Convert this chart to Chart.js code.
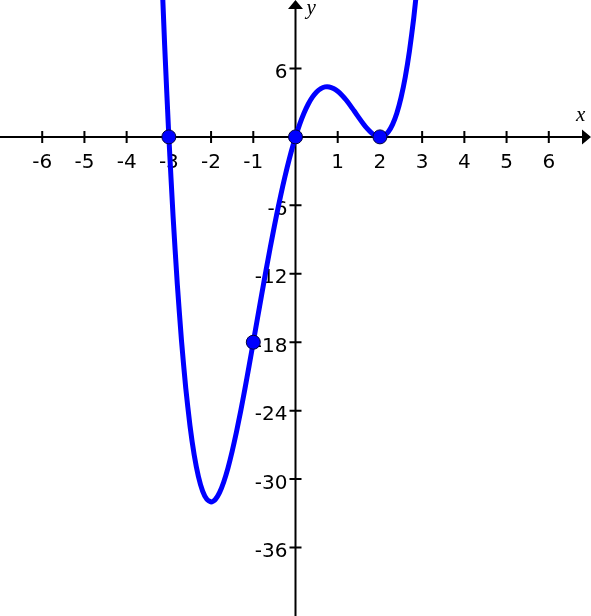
<!DOCTYPE html>
<html>
  <head>
    <meta charset="UTF-8" />
    <title>quartic graph</title>
    <script src="https://cdn.jsdelivr.net/npm/chart.js@4.4.1/dist/chart.umd.min.js"></script>
    <style>
      body { margin: 0; background: #fff; }
      canvas { display: block; }
    </style>
    <script>
      // curve (x step 0.1)
      const curveX = [
        -3.2, -3.1, -3.0, -2.9, -2.8, -2.7, -2.6, -2.5, -2.4, -2.3, -2.2, -2.1,
        -2.0, -1.9, -1.8, -1.7, -1.6, -1.5, -1.4, -1.3, -1.2, -1.1, -1.0, -0.9,
        -0.8, -0.7, -0.6, -0.5, -0.4, -0.3, -0.2, -0.1, 0.0, 0.1, 0.2, 0.3,
        0.4, 0.5, 0.6, 0.7, 0.8, 0.9, 1.0, 1.1, 1.2, 1.3, 1.4, 1.5,
        1.6, 1.7, 1.8, 1.9, 2.0, 2.1, 2.2, 2.3, 2.4, 2.5, 2.6, 2.7, 2.8, 2.9
      ]
      const curveY = [
        17.31, 8.06, 0, -6.96, -12.90, -17.89, -22.01, -25.31, -27.88, -29.77, -31.05, -31.77,
        -32, -31.79, -31.19, -30.25, -29.03, -27.56, -25.89, -24.07, -22.12, -20.08, -18, -15.89,
        -13.80, -11.74, -9.73, -7.81, -5.99, -4.28, -2.71, -1.28, 0, 1.12, 2.07, 2.86,
        3.48, 3.94, 4.23, 4.38, 4.38, 4.25, 4.00, 3.65, 3.23, 2.74, 2.22, 1.69,
        1.18, 0.72, 0.35, 0.09, 0, 0.11, 0.46, 1.10, 2.07, 3.44, 5.24, 7.54, 10.39, 13.86
      ]
      // marked points
      const markX = [-3, 0, 2, -1]
      const markY = [0, 0, 0, -18]

      const xRange = [-7, 7]
      const yRange = [-42, 12]
      const xTicks = [-6, -5, -4, -3, -2, -1, 1, 2, 3, 4, 5, 6]
      const yTicks = [6, -6, -12, -18, -24, -30, -36]

      // axes through the origin, arrows, tick marks and labels
      const axisDecor = {
        id: 'axisDecor',
        beforeDatasetsDraw(chart) {
          const { ctx, chartArea } = chart
          const xs = chart.scales.x
          const ys = chart.scales.y
          const x0 = xs.getPixelForValue(0)
          const y0 = ys.getPixelForValue(0)
          ctx.save()
          ctx.strokeStyle = '#000'
          ctx.fillStyle = '#000'
          ctx.lineWidth = 2
          ctx.beginPath()
          ctx.moveTo(chartArea.left, y0)
          ctx.lineTo(chartArea.right - 5, y0)
          ctx.moveTo(x0, chartArea.bottom)
          ctx.lineTo(x0, chartArea.top + 5)
          xTicks.forEach(v => {
            const p = xs.getPixelForValue(v)
            ctx.moveTo(p, y0 - 6)
            ctx.lineTo(p, y0 + 6)
          })
          yTicks.forEach(v => {
            const p = ys.getPixelForValue(v)
            ctx.moveTo(x0 - 6, p)
            ctx.lineTo(x0 + 6, p)
          })
          ctx.stroke()
          ctx.beginPath()
          ctx.moveTo(chartArea.right, y0)
          ctx.lineTo(chartArea.right - 9, y0 - 7.5)
          ctx.lineTo(chartArea.right - 9, y0 + 7.5)
          ctx.closePath()
          ctx.moveTo(x0, chartArea.top)
          ctx.lineTo(x0 - 7.5, chartArea.top + 9)
          ctx.lineTo(x0 + 7.5, chartArea.top + 9)
          ctx.closePath()
          ctx.fill()

          ctx.font = '20px "DejaVu Sans"'
          ctx.textBaseline = 'alphabetic'
          ctx.textAlign = 'center'
          xTicks.forEach(v => ctx.fillText(String(v), xs.getPixelForValue(v), y0 + 31))
          ctx.textAlign = 'right'
          yTicks.forEach(v => ctx.fillText(String(v), x0 - 8, ys.getPixelForValue(v) + 9.5))

          ctx.font = 'italic 21px "Liberation Serif"'
          ctx.textAlign = 'left'
          ctx.fillText('x', chartArea.right - 15, y0 - 16)
          ctx.fillText('y', x0 + 11, chartArea.top + 13.5)
          ctx.restore()
        }
      }

      window.onload = function () {
        const context = document.querySelector('#chart').getContext('2d')
        new Chart(context, {
          data: {
            datasets: [
              {
                type: 'scatter',
                data: markX.map((v, i) => ({ x: v, y: markY[i] })),
                pointRadius: 7,
                backgroundColor: '#0000ff',
                borderColor: '#000040',
                borderWidth: 1
              },
              {
                type: 'line',
                data: curveX.map((v, i) => ({ x: v, y: curveY[i] })),
                borderColor: '#0000ff',
                borderWidth: 5,
                pointRadius: 0,
                tension: 0.2,
                fill: false
              }
            ]
          },
          options: {
            responsive: false,
            animation: false,
            events: [],
            layout: { padding: 0, autoPadding: false },
            plugins: { legend: { display: false }, tooltip: { enabled: false } },
            scales: {
              x: { type: 'linear', display: false, min: xRange[0], max: xRange[1] },
              y: { type: 'linear', display: false, min: yRange[0], max: yRange[1] }
            }
          },
          plugins: [axisDecor]
        })
      }
    </script>
  </head>
  <body>
    <canvas id="chart" width="591" height="616"></canvas>
  </body>
</html>
